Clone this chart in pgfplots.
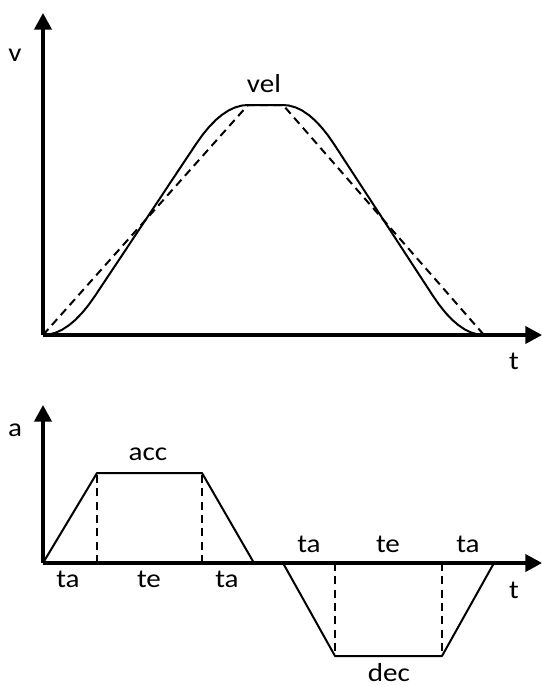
\documentclass[border=0pt]{standalone}
\usepackage{pgfplots}
\pgfplotsset{compat=1.18}
\usepackage{fontspec}
\setmainfont{Carlito}[FakeStretch=1.12]
\usetikzlibrary{arrows.meta}
\tikzset{lab/.style={font=\fontsize{19.5}{22}\selectfont, anchor=base, inner sep=0pt}}
\pgfplotsset{
  myax/.style={
    x=0.75pt, y=0.75pt,
    axis lines=left,
    xtick=\empty, ytick=\empty,
    clip=false,
    axis line style={line width=2.3pt, -{Triangle[length=12.5pt,width=13pt]}},
    anchor=origin,
  },
}
\begin{document}
\begin{tikzpicture}
\path[use as bounding box] (0,0) rectangle (406.5pt,-515.25pt);
% ---------- velocity ----------
\begin{axis}[myax, at={(32.25pt,-251.25pt)}, xmin=0, xmax=499, ymin=0, ymax=322]
\addplot[black, line width=1.5pt, dash pattern=on 6pt off 4pt] coordinates {
(0,0) (205,230) (240,230) (441,0)};
\addplot[black, line width=1.5pt, line join=round] coordinates {
(0,0) (6,0.52) (13,2.44) (19,5.22) (26,9.77) (32,14.8) (39,21.98) (45,29.26) (52,39.07)
(153,190.93) (160,200.74) (166,208.02) (173,215.2) (179,220.23) (186,224.78) (192,227.56) (199,229.48) (205,230)
(240,230) (246,229.46) (253,227.46) (259,224.57) (266,219.84) (272,214.61) (278,208.29) (285,199.56) (291,190.9)
(390,39.1) (396,30.44) (403,21.71) (409,15.39) (415,10.16) (422,5.43) (428,2.54) (435,0.54) (441,0)};
\node[lab] at (axis cs:-28,274) {v};
\node[lab] at (axis cs:221,243) {vel};
\node[lab] at (axis cs:471,-34) {t};
\end{axis}
% ---------- acceleration ----------
\begin{axis}[myax, at={(32.25pt,-422.25pt)}, xmin=0, xmax=499, ymin=0, ymax=158]
\addplot[black, line width=1.5pt, line join=round] coordinates {
(0,0) (54,90) (159,90) (211,0) (240,0) (292,-93) (399,-93) (451,0)};
\addplot[black, line width=1.5pt, dash pattern=on 6pt off 4pt] coordinates {(54,0) (54,90)};
\addplot[black, line width=1.5pt, dash pattern=on 6pt off 4pt] coordinates {(159,0) (159,90)};
\addplot[black, line width=2.1pt, dash pattern=on 6pt off 4pt] coordinates {(292,0) (292,-93)};
\addplot[black, line width=1.2pt, dash pattern=on 6pt off 4pt] coordinates {(399,0) (399,-93)};
\node[lab] at (axis cs:-28,127) {a};
\node[lab] at (axis cs:105,103) {acc};
\node[lab] at (axis cs:25,-24) {ta};
\node[lab] at (axis cs:106,-24) {te};
\node[lab] at (axis cs:184,-24) {ta};
\node[lab] at (axis cs:266,11) {ta};
\node[lab] at (axis cs:345,11) {te};
\node[lab] at (axis cs:425,11) {ta};
\node[lab] at (axis cs:346,-118.5) {dec};
\node[lab] at (axis cs:471,-35) {t};
\end{axis}
\end{tikzpicture}
\end{document}
